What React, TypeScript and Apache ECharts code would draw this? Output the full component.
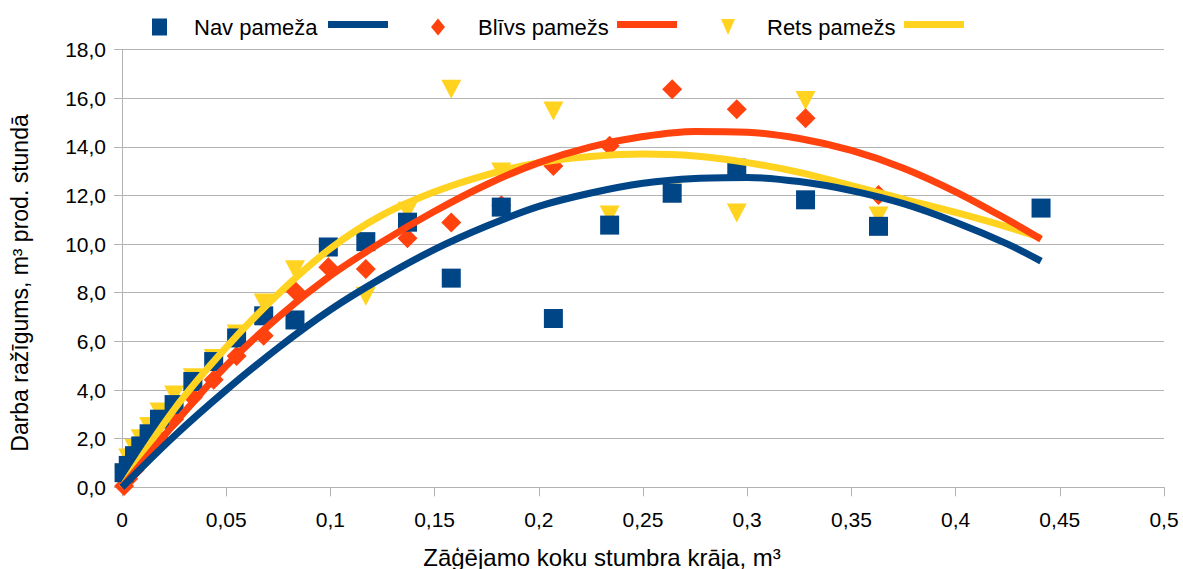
import React, { useEffect, useRef } from "react";
import * as echarts from "echarts";

// Stem volume of felled trees, m³ (shared x values)
const stemVolume = [
  0.001, 0.003, 0.006, 0.009, 0.013, 0.018, 0.025, 0.034, 0.044, 0.055, 0.068, 0.083,
  0.099, 0.117, 0.137, 0.158, 0.182, 0.207, 0.234, 0.264, 0.295, 0.328, 0.363, 0.441,
];

// Productivity, m³ per productive hour
const navPameza = [
  0.6, 0.9, 1.3, 1.7, 2.2, 2.8, 3.4, 4.35, 5.17, 6.14, 7.05, 6.88,
  9.88, 10.1, 10.9, 8.6, 11.52, 6.94, 10.78, 12.09, 13.12, 11.82, 10.73, 11.48,
];
const blivsPamezs = [
  0.05, 0.35, 0.7, 1.0, 1.5, 2.0, 2.8, 3.7, 4.42, 5.4, 6.23, 8.08,
  9.05, 8.98, 10.24, 10.89, 11.6, 13.21, 14.04, 16.37, 15.54, 15.17, 12.02, null,
];
const retsPamezs = [
  0.5, 1.2, 1.6, 2.0, 2.5, 3.1, 3.8, 4.5, 5.3, 6.3, 7.58, 8.94,
  9.8, 7.85, 11.35, 16.37, 12.96, 15.47, 11.2, 12.1, 11.28, 15.9, 11.15, null,
];

// Polynomial trend lines, sampled along the stem volume range
const trendX = [
  0, 0.025, 0.05, 0.075, 0.1, 0.125, 0.15, 0.175, 0.2, 0.225,
  0.25, 0.275, 0.3, 0.325, 0.35, 0.375, 0.4, 0.425, 0.441,
];
const navTrend = [
  0, 2.1, 4.0, 5.74, 7.3, 8.62, 9.78, 10.74, 11.55, 12.1,
  12.5, 12.7, 12.74, 12.57, 12.2, 11.66, 10.9, 10.0, 9.3,
];
const blivsTrend = [
  0, 2.6, 5.0, 7.0, 8.7, 10.1, 11.35, 12.45, 13.35, 14.0,
  14.42, 14.63, 14.6, 14.34, 13.85, 13.12, 12.15, 11.0, 10.2,
];
const retsTrend = [
  0, 3.2, 5.75, 7.95, 9.82, 11.2, 12.15, 12.85, 13.35, 13.6,
  13.7, 13.62, 13.35, 12.95, 12.4, 11.85, 11.3, 10.7, 10.25,
];

const seriesNames = ["Nav pameža", "Blīvs pamežs", "Rets pamežs"];
const trendNames = ["Nav pameža (trend)", "Blīvs pamežs (trend)", "Rets pamežs (trend)"];
const colors = ["#004586", "#ff420e", "#ffd320"];

const xTitle = "Zāģējamo koku stumbra krāja, m³";
const yTitle = "Darba ražīgums, m³ prod. stundā";

const FONT = "Liberation Sans, Arial, sans-serif";
const GRID_COLOR = "#b3b3b3";

const pair = (xs: number[], ys: (number | null)[]) =>
  xs.map((x, i) => (ys[i] == null ? null : [x, ys[i]])).filter((p) => p !== null);

const triangleDown = "path://M0,0L20,0L10,19Z";

export default function App() {
  const ref = useRef<HTMLDivElement>(null);

  useEffect(() => {
    if (!ref.current) return;
    const chart = echarts.init(ref.current, undefined, { renderer: "svg" });

    const markerLegend = (
      name: string,
      icon: string,
      left: number,
      width: number,
      gap: number,
      color: string
    ) => ({
      left,
      top: 16,
      padding: 0,
      itemWidth: width,
      itemHeight: 17,
      selectedMode: false,
      data: [{ name, icon, itemStyle: { color } }],
      textStyle: { fontFamily: FONT, fontSize: 22, color: "#000", padding: [0, 0, 0, gap] },
    });
    const lineLegend = (name: string, left: number, color: string) => ({
      left,
      top: 21,
      padding: 0,
      itemWidth: 60,
      itemHeight: 7,
      selectedMode: false,
      data: [{ name, icon: "rect", itemStyle: { color } }],
      formatter: () => "",
    });

    chart.setOption({
      animation: false,
      backgroundColor: "#fff",
      textStyle: { fontFamily: FONT },
      grid: { left: 122, right: 19, top: 49.5, bottom: 81.7, containLabel: false },
      legend: [
        markerLegend(seriesNames[0], "rect", 152, 15, 22, colors[0]),
        lineLegend(trendNames[0], 328, colors[0]),
        markerLegend(seriesNames[1], "diamond", 431, 14, 28, colors[1]),
        lineLegend(trendNames[1], 617, colors[1]),
        markerLegend(seriesNames[2], "path://M0,0L14,0L7,16Z", 721, 14, 27, colors[2]),
        lineLegend(trendNames[2], 904, colors[2]),
      ],
      xAxis: {
        type: "value",
        min: 0,
        max: 0.5,
        interval: 0.05,
        axisLine: { show: true, lineStyle: { color: GRID_COLOR, width: 1 } },
        axisTick: { show: true, length: 9, lineStyle: { color: GRID_COLOR } },
        splitLine: { show: false },
        axisLabel: {
          margin: 22,
          fontFamily: FONT,
          fontSize: 21,
          color: "#000",
          formatter: (v: number) => String(+v.toFixed(2)).replace(".", ","),
        },
      },
      yAxis: {
        type: "value",
        min: 0,
        max: 18,
        interval: 2,
        axisLine: { show: true, lineStyle: { color: GRID_COLOR, width: 1 } },
        axisTick: { show: true, length: 8, lineStyle: { color: GRID_COLOR } },
        splitLine: { show: true, lineStyle: { color: GRID_COLOR, width: 1 } },
        axisLabel: {
          margin: 16,
          fontFamily: FONT,
          fontSize: 21,
          color: "#000",
          formatter: (v: number) => v.toFixed(1).replace(".", ","),
        },
      },
      graphic: [
        {
          type: "text",
          x: 602,
          y: 557,
          style: {
            text: xTitle,
            font: `24px ${FONT}`,
            fill: "#000",
            textAlign: "center",
            textVerticalAlign: "middle",
          },
        },
        {
          type: "text",
          x: 20,
          y: 283,
          rotation: Math.PI / 2,
          style: {
            text: yTitle,
            font: `23px ${FONT}`,
            fill: "#000",
            textAlign: "center",
            textVerticalAlign: "middle",
          },
        },
      ],
      series: [
        {
          name: seriesNames[2],
          type: "scatter",
          z: 2,
          symbol: triangleDown,
          symbolSize: [20, 19],
          itemStyle: { color: colors[2], opacity: 1 },
          data: pair(stemVolume, retsPamezs),
          silent: true,
        },
        {
          name: seriesNames[1],
          type: "scatter",
          z: 3,
          symbol: "diamond",
          symbolSize: 20,
          itemStyle: { color: colors[1], opacity: 1 },
          data: pair(stemVolume, blivsPamezs),
          silent: true,
        },
        {
          name: seriesNames[0],
          type: "scatter",
          z: 4,
          symbol: "rect",
          symbolSize: 19,
          itemStyle: { color: colors[0], opacity: 1 },
          data: pair(stemVolume, navPameza),
          silent: true,
        },
        {
          name: trendNames[2],
          type: "line",
          z: 5,
          smooth: 0.35,
          showSymbol: false,
          color: colors[2],
          lineStyle: { color: colors[2], width: 7 },
          data: pair(trendX, retsTrend),
          silent: true,
        },
        {
          name: trendNames[1],
          type: "line",
          z: 6,
          smooth: 0.35,
          showSymbol: false,
          color: colors[1],
          lineStyle: { color: colors[1], width: 7 },
          data: pair(trendX, blivsTrend),
          silent: true,
        },
        {
          name: trendNames[0],
          type: "line",
          z: 7,
          smooth: 0.35,
          showSymbol: false,
          color: colors[0],
          lineStyle: { color: colors[0], width: 7 },
          data: pair(trendX, navTrend),
          silent: true,
        },
      ],
    });

    return () => chart.dispose();
  }, []);

  return (
    <div
      ref={ref}
      style={{ position: "fixed", left: 0, top: 0, width: 1183, height: 569, background: "#fff" }}
    />
  );
}
